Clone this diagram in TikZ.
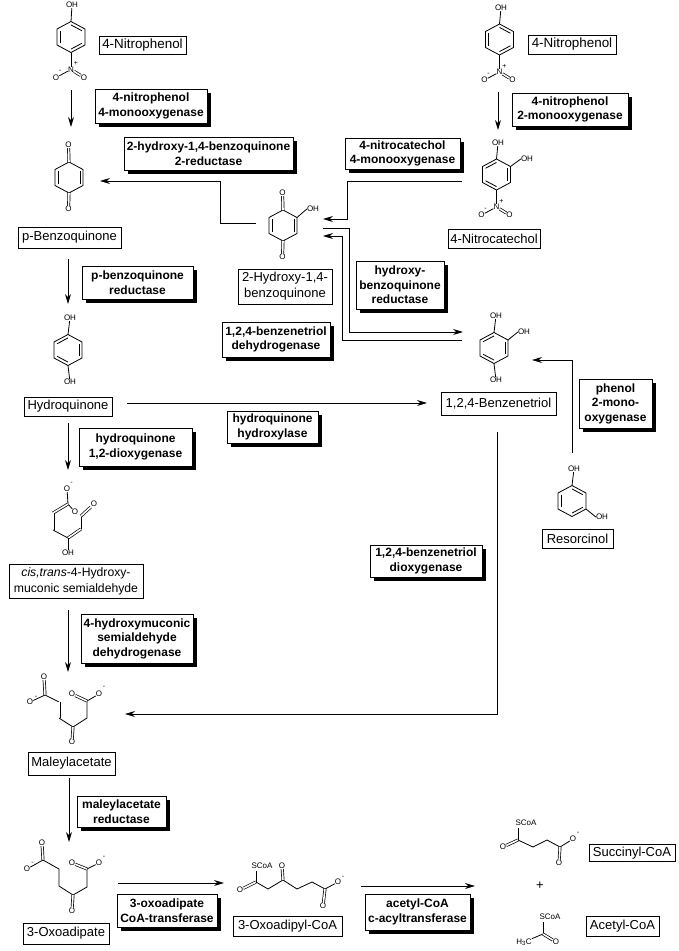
\documentclass[tikz,border=0pt]{standalone}
\usepackage{fontspec}
\setmainfont{Liberation Sans}
\usetikzlibrary{arrows.meta,calc,shadows}

\tikzset{
   bond/.style={line width=.8pt},
   dbl/.style={line width=.7pt,double,double distance=1.6pt},
   rxn/.style={line width=.9pt,-{Stealth[length=10pt,width=6pt]}},
   atom/.style={inner sep=0pt,font=\fontsize{8}{8}\selectfont},
   charge/.style={inner sep=0pt,font=\fontsize{7}{7}\selectfont},
   namebox/.style={draw,line width=.8pt,inner sep=0pt,align=center,
      font=\fontsize{13}{16}\selectfont},
   enzbox/.style={draw,fill=white,line width=.9pt,inner sep=0pt,align=center,
      font=\fontsize{12}{14.5}\selectfont\bfseries,
      drop shadow={shadow xshift=3.5pt,shadow yshift=-3.5pt,fill=black,opacity=1}},
   pics/benzring/.style={code={
      \coordinate (-c) at (0,0);
      \foreach \vname/\vx/\vy in {v1/0/-15.5,v2/14/-8,v3/14/8,v4/0/15.5,v5/-14/8,v6/-14/-8}
         \coordinate (-\vname) at (\vx,\vy);
      \draw[bond] (-v1) -- (-v2) -- (-v3) -- (-v4) -- (-v5) -- (-v6) -- cycle;
      \foreach \a/\b in {#1}
         \draw[bond] ($(-c)!.78!(-v\a)$) -- ($(-c)!.78!(-v\b)$);
   }},
   pics/nitro/.style={code={
      \node[atom] (-n) at (0,17) {N};
      \node[charge] (-plus) at (5,11) {+};
      \node[atom] (-ol) at (-15,25) {O};
      \node[charge] (-minus) at (-11,19) {-};
      \node[atom] (-or) at (13,25) {O};
      \draw[bond] (0,0) -- (-n);
      \draw[bond] (-ol) -- (-n);
      \draw[dbl] (-n) -- (-or);
   }},
}

\begin{document}
\begin{tikzpicture}[x=1pt,y=-1pt]
\useasboundingbox (0,0) rectangle (678,951);

% 4-nitrophenol, left
\pic (nphA) at (71,37) {benzring={1/2,3/4,5/6}};
\node[atom] (nphAoh) at (72,5) {OH};
\draw[bond] (nphA-v1) -- (nphAoh);
\pic (nphAno) at (71,52.5) {nitro};
\node[namebox,font=\fontsize{13.4}{16}\selectfont,minimum width=87,minimum height=18] (nphAlab) at (142.5,45) {4-Nitrophenol};

% 4-nitrophenol, right
\pic (nphB) at (499.5,39.5) {benzring={1/2,3/4,5/6}};
\node[atom] (nphBoh) at (501,8) {OH};
\draw[bond] (nphB-v1) -- (nphBoh);
\pic (nphBno) at (499.5,55) {nitro};
\node[namebox,font=\fontsize{13.4}{16}\selectfont,minimum width=88,minimum height=19] (nphBlab) at (572,44.5) {4-Nitrophenol};

% p-benzoquinone
\pic (bq) at (69,177.5) {benzring={2/3,5/6}};
\node[atom] (bqot) at (68.5,145) {O};
\node[atom] (bqob) at (68.5,209) {O};
\draw[dbl] (bq-v1) -- (bqot);
\draw[dbl] (bq-v4) -- (bqob);
\node[namebox,minimum width=103,minimum height=21] (bqlab) at (69.5,237.5) {p-Benzoquinone};

% 4-nitrocatechol
\pic (ncat) at (496.5,174.5) {benzring={2/3,4/5,6/1}};
\node[atom] (ncatot) at (498,143) {OH};
\node[atom] (ncator) at (527,159) {OH};
\draw[bond] (ncat-v1) -- (ncatot);
\draw[bond] (ncat-v2) -- (ncator.west);
\pic (ncatno) at (496.5,190) {nitro};
\node[namebox,minimum width=92,minimum height=19] (ncatlab) at (494,238.5) {4-Nitrocatechol};

% 2-hydroxy-1,4-benzoquinone
\pic (hbq) at (283,225.5) {benzring={2/3,5/6}};
\node[atom] (hbqot) at (282.5,193) {O};
\node[atom] (hbqob) at (282.5,257) {O};
\node[atom] (hbqoh) at (313,209) {OH};
\draw[dbl] (hbq-v1) -- (hbqot);
\draw[dbl] (hbq-v4) -- (hbqob);
\draw[bond] (hbq-v2) -- (hbqoh.west);
\node[namebox,minimum width=94,minimum height=35] (hbqlab) at (285,286.5) {2-Hydroxy-1,4-\\benzoquinone};

% 1,2,4-benzenetriol
\pic (btr) at (494,348) {benzring={2/3,4/5,6/1}};
\node[atom] (btrot) at (496,316) {OH};
\node[atom] (btror) at (524,332) {OH};
\node[atom] (btrob) at (496,380) {OH};
\draw[bond] (btr-v1) -- (btrot);
\draw[bond] (btr-v2) -- (btror.west);
\draw[bond] (btr-v4) -- (btrob);
\node[namebox,minimum width=115,minimum height=23] (btrlab) at (498.5,403.5) {1,2,4-Benzenetriol};

% hydroquinone
\pic (hq) at (68,350) {benzring={2/3,4/5,6/1}};
\node[atom] (hqot) at (70,318) {OH};
\node[atom] (hqob) at (70,382) {OH};
\draw[bond] (hq-v1) -- (hqot);
\draw[bond] (hq-v4) -- (hqob);
\node[namebox,minimum width=88,minimum height=19] (hqlab) at (68,406.5) {Hydroquinone};

% resorcinol
\pic (res) at (572,501) {benzring={1/2,3/4,5/6}};
\node[atom] (resot) at (574,469) {OH};
\node[atom] (resob) at (602,517) {OH};
\draw[bond] (res-v1) -- (resot);
\draw[bond] (res-v3) -- (resob.west);
\node[namebox,minimum width=71,minimum height=19] (reslab) at (577.5,538.5) {Resorcinol};

% cis,trans-4-hydroxymuconic semialdehyde
\foreach \cname/\cx/\cy in {a/68/504,b/53/513,c/53/530,d/68/538,e/81/529,f/81/516}
   \coordinate (sem\cname) at (\cx,\cy);
\node[atom] (semoa) at (67,489) {O};
\node[charge] (semmin) at (71.5,483) {-};
\node[atom] (semob) at (75,512) {O};
\node[atom] (semoc) at (94,504) {O};
\node[atom] (semoh) at (68,553) {OH};
\draw[bond] (semob) -- (sema);
\draw[bond] (sema) -- (semoa);
\draw[dbl] (sema) -- (semb);
\draw[dbl] (semb) -- (semc);
\draw[bond] (semc) -- (semd);
\draw[dbl] (semd) -- (seme);
\draw[bond] (seme) -- (semf);
\draw[dbl] (semf) -- (semoc);
\draw[bond] (semd) -- (semoh);
\node[namebox,font=\fontsize{12.2}{16}\selectfont,minimum width=134,minimum height=34] (semlab) at (76,581) {\textit{cis,trans}-4-Hydroxy-\\muconic semialdehyde};

% maleylacetate
\foreach \cname/\cx/\cy in {a/45/695,b/59/702,c/59/718,d/73/727,e/87/718,f/87/701}
   \coordinate (mal\cname) at (\cx,\cy);
\node[atom] (maloa) at (44,677) {O};
\node[atom] (malob) at (30,702) {O};
\node[charge] (malmina) at (36,697) {-};
\node[atom] (maloc) at (72,742) {O};
\node[atom] (malod) at (72,694) {O};
\node[atom] (maloe) at (99,694) {O};
\node[charge] (malminb) at (104,687) {-};
\draw[dbl] (mala) -- (maloa);
\draw[bond] (mala) -- (malob);
\draw[bond] (mala) -- (malb);
\draw[dbl] (malb) -- (malc);
\draw[bond] (malc) -- (mald);
\draw[dbl] (mald) -- (maloc);
\draw[bond] (mald) -- (male) -- (malf);
\draw[dbl] (malf) -- (malod);
\draw[bond] (malf) -- (maloe);
\node[namebox,minimum width=87,minimum height=23] (mallab) at (71.5,763.5) {Maleylacetate};

% 3-oxoadipate
\foreach \cname/\cx/\cy in {a/43/860,b/59/869,c/59/886,d/73/895,e/87/887,f/87/869}
   \coordinate (oxa\cname) at (\cx,\cy);
\node[atom] (oxaoa) at (42,843) {O};
\node[atom] (oxaob) at (27,869) {O};
\node[charge] (oxamina) at (32.5,863) {-};
\node[atom] (oxaoc) at (72,911) {O};
\node[atom] (oxaod) at (72,863) {O};
\node[atom] (oxaoe) at (99,863) {O};
\node[charge] (oxaminb) at (104,857) {-};
\draw[dbl] (oxaa) -- (oxaoa);
\draw[bond] (oxaa) -- (oxaob);
\draw[bond] (oxaa) -- (oxab) -- (oxac) -- (oxad);
\draw[dbl] (oxad) -- (oxaoc);
\draw[bond] (oxad) -- (oxae) -- (oxaf);
\draw[dbl] (oxaf) -- (oxaod);
\draw[bond] (oxaf) -- (oxaoe);
\node[namebox,minimum width=86,minimum height=21] (oxalab) at (66,933.5) {3-Oxoadipate};

% 3-oxoadipyl-CoA
\foreach \cname/\cx/\cy in {a/256/882,b/268/889,c/283/880,d/297/889,e/312/882,f/325/889}
   \coordinate (oxc\cname) at (\cx,\cy);
\node[atom] (oxcs) at (262,866) {SCoA};
\node[atom] (oxcoa) at (240,890) {O};
\node[atom] (oxcob) at (282,866) {O};
\node[atom] (oxcoc) at (323,906) {O};
\node[atom] (oxcod) at (338,882) {O};
\node[charge] (oxcmin) at (343,877) {-};
\coordinate (oxcsb) at (256,871);
\draw[bond] (oxca) -- (oxcsb);
\draw[dbl] (oxca) -- (oxcoa);
\draw[bond] (oxca) -- (oxcb) -- (oxcc);
\draw[dbl] (oxcc) -- (oxcob);
\draw[bond] (oxcc) -- (oxcd) -- (oxce) -- (oxcf);
\draw[dbl] (oxcf) -- (oxcoc);
\draw[bond] (oxcf) -- (oxcod);
\node[namebox,minimum width=109,minimum height=20] (oxclab) at (287.5,926) {3-Oxoadipyl-CoA};

% succinyl-CoA
\foreach \cname/\cx/\cy in {a/518/840,b/533/847,c/547/840,d/560/847}
   \coordinate (suc\cname) at (\cx,\cy);
\node[atom] (sucs) at (526,823) {SCoA};
\node[atom] (sucoa) at (503,847) {O};
\node[atom] (sucob) at (559,863) {O};
\node[atom] (sucoc) at (573,839) {O};
\node[charge] (sucmin) at (578,833) {-};
\coordinate (sucsb) at (518,828);
\draw[bond] (suca) -- (sucsb);
\draw[dbl] (suca) -- (sucoa);
\draw[bond] (suca) -- (sucb) -- (succ) -- (sucd);
\draw[dbl] (sucd) -- (sucob);
\draw[bond] (sucd) -- (sucoc);
\node[namebox,minimum width=86,minimum height=17] (suclab) at (632,853) {Succinyl-CoA};

\node[inner sep=0pt,font=\fontsize{13}{13}\selectfont] (plus) at (540,886) {+};

% acetyl-CoA
\coordinate (aceta) at (543,934);
\coordinate (acetsb) at (543,922);
\node[atom] (acets) at (550,917) {SCoA};
\node[atom] (acetme) at (524,942) {H\textsubscript{3}C};
\node[atom] (aceto) at (556,942) {O};
\draw[bond] (aceta) -- (acetsb);
\draw[bond] (aceta) -- (acetme);
\draw[dbl] (aceta) -- (aceto);
\node[namebox,minimum width=73,minimum height=20] (acetlab) at (622.5,926) {Acetyl-CoA};

% enzymes
\node[enzbox,minimum width=112,minimum height=34] (enzA) at (151,106) {4-nitrophenol\\4-monooxygenase};
\node[enzbox,minimum width=116,minimum height=33] (enzB) at (570,109.5) {4-nitrophenol\\2-monooxygenase};
\node[enzbox,minimum width=169,minimum height=33] (enzC) at (208.5,153.5) {2-hydroxy-1,4-benzoquinone\\2-reductase};
\node[enzbox,minimum width=115,minimum height=31] (enzD) at (402.5,153.5) {4-nitrocatechol\\4-monooxygenase};
\node[enzbox,minimum width=111,minimum height=33] (enzE) at (137.5,282.5) {p-benzoquinone\\reductase};
\node[enzbox,minimum width=88,minimum height=48] (enzF) at (400,285) {hydroxy-\\benzoquinone\\reductase};
\node[enzbox,minimum width=108,minimum height=35] (enzG) at (276,339.5) {1,2,4-benzenetriol\\dehydrogenase};
\node[enzbox,minimum width=91,minimum height=32] (enzH) at (272.5,427) {hydroquinone\\hydroxylase};
\node[enzbox,minimum width=113,minimum height=38] (enzI) at (135.5,447) {hydroquinone\\1,2-dioxygenase};
\node[enzbox,minimum width=73,minimum height=49] (enzJ) at (615.5,403.5) {phenol\\2-mono-\\oxygenase};
\node[enzbox,minimum width=112,minimum height=32] (enzK) at (426,561) {1,2,4-benzenetriol\\dioxygenase};
\node[enzbox,minimum width=112,minimum height=49] (enzL) at (137,638.5) {4-hydroxymuconic\\semialdehyde\\dehydrogenase};
\node[enzbox,minimum width=89,minimum height=31] (enzM) at (121.5,811.5) {maleylacetate\\reductase};
\node[enzbox,minimum width=100,minimum height=33] (enzN) at (167,910.5) {3-oxoadipate\\CoA-transferase};
\node[enzbox,minimum width=105,minimum height=36] (enzO) at (417.5,912) {acetyl-CoA\\c-acyltransferase};

% ends of the connectors
\foreach \pname/\px/\py in {
   nphAout/71/90,bqin/71/127,nphBout/498/92,ncatin/498/130,
   bqout/68/259,hqin/68/304,hqdown/68/423,semin/68/470,
   semout/68/610,malin/68/672,malout/69/778,oxain/69/842,
   hqright/127/403,btrin/427/403,oxaout/118/883,oxcin/224/883,
   oxcout/361/886,sucin/475/886,btrdown/497.5/432,btrcorner/497.5/714,malright/125/714,
   resup/572.5/453,rescorner/572.5/360,btrright/532/360,
   hbqout/256/223,hbqkneeA/220/223,hbqkneeB/220/181,bqright/100/181,
   ncatout/462/181,ncatknee/347/181,ncatknee2/347/219,hbqinA/323/219,
   hbqoutB/323/228,hbqkneeC/349/228,hbqkneeD/349/332,btrinB/463/332,
   btroutB/462/340,btrkneeA/342/340,btrkneeB/342/236,hbqinB/323/236}
   \coordinate (\pname) at (\px,\py);

% reactions
\draw[rxn] (nphAout) -- (bqin);
\draw[rxn] (nphBout) -- (ncatin);
\draw[rxn] (bqout) -- (hqin);
\draw[rxn] (hqdown) -- (semin);
\draw[rxn] (semout) -- (malin);
\draw[rxn] (malout) -- (oxain);
\draw[rxn] (hqright) -- (btrin);
\draw[rxn] (oxaout) -- (oxcin);
\draw[rxn] (oxcout) -- (sucin);
\draw[rxn] (btrdown) -- (btrcorner) -- (malright);
\draw[rxn] (resup) -- (rescorner) -- (btrright);
\draw[rxn] (hbqout) -- (hbqkneeA) -- (hbqkneeB) -- (bqright);
\draw[rxn] (ncatout) -- (ncatknee) -- (ncatknee2) -- (hbqinA);
\draw[rxn] (hbqoutB) -- (hbqkneeC) -- (hbqkneeD) -- (btrinB);
\draw[rxn] (btroutB) -- (btrkneeA) -- (btrkneeB) -- (hbqinB);

\end{tikzpicture}
\end{document}
